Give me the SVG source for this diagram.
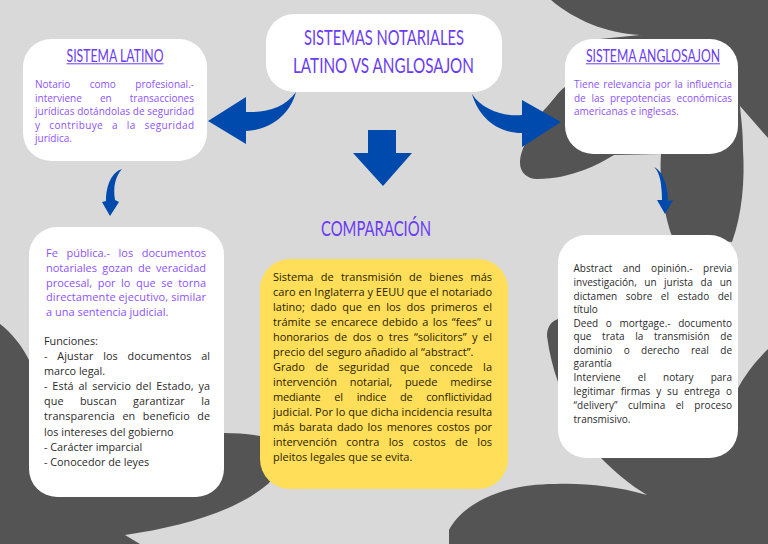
<svg xmlns="http://www.w3.org/2000/svg" width="768" height="544" viewBox="0 0 768 544">
<style>
text{font-family:"Open Sans","Noto Sans","DejaVu Sans",sans-serif;}
.b{font-size:10px;fill:#8c52ff;}
.m{font-size:10px;fill:#2a2a2a;}
.p{font-size:11px;fill:#8c52ff;}
.k{font-size:10.8px;fill:#2a2a2a;}
.y{font-size:11px;fill:#2a2200;}
.t{font-family:"Lato","Open Sans",sans-serif;fill:#6a3cf5;}
.h1{font-size:21px;}
.h2{font-size:18px;}
.box{fill:#fff;}
.dark{fill:#545454;}
.arrow{fill:#004aad;}
.ul{stroke:#6a3cf5;stroke-width:1;}
</style>
<rect width="768" height="544" fill="#d9d9d9"/>
<g id="background">
<path class="dark" d="M551 0C575 20 605 33 640 35L660 50L740 106L768 138V0Z"/>
<path class="dark" d="M640 35L600 39L565 87C558 92 552 102 544 110C536 120 530 130 527 140C522 150 520 156 520 163C520 173 528 179 537 179C555 179 570 175 584 170C595 166 605 160 614 155L661 154C659 180 664 215 672 236L732 242C742 215 745 180 743 150C743 130 741 118 740 106L700 60Z"/>
<path class="dark" d="M558 319C550 322 547 328 547 336C549 352 553 368 558 382L570 400L601 458C615 472 630 485 647 495C615 486 585 483 555 484C500 484 462 505 449 530L449 544H768V349C755 362 745 375 737 390L700 400Z"/>
<path class="dark" d="M0 324C12 333 22 346 29 360L100 420L224 433C236 433 248 434 260 436L280 470L268 484C235 512 180 527 125 535L140 544H0Z"/>
</g>
<g id="connectors">
<path class="arrow" d="M296 92C285 108 265 113 246 112V97L208 121L246 144V131C270 130 290 115 296 92Z"/>
<path class="arrow" d="M472 94C482 110 505 117 522 115V100L561 122L522 147V133C495 133 478 115 472 94Z"/>
<path class="arrow" d="M368 130H396V153H412L383 186L353 153H368Z"/>
<path class="arrow" d="M122 169C112 172 106 185 106 201L102 202L110 216L119 202L115 200C113 187 115 177 122 169Z"/>
<path class="arrow" d="M654 167C660 172 662 185 662 200L657 200L665 214L673 200L668 201C668 188 664 172 654 167Z"/>
</g>
<g id="node-title">
<rect class="box" x="266" y="14" width="236" height="78" rx="28"/>
<text class="t h1" x="304" y="44.5" textLength="160" lengthAdjust="spacingAndGlyphs">SISTEMAS NOTARIALES</text>
<text class="t h1" x="293" y="73" textLength="181" lengthAdjust="spacingAndGlyphs">LATINO VS ANGLOSAJON</text>
</g>
<g id="node-latino">
<rect class="box" x="23" y="39" width="184" height="122" rx="28"/>
<text class="t h2" x="66.5" y="62" textLength="97" lengthAdjust="spacingAndGlyphs">SISTEMA LATINO</text>
<line class="ul" x1="66.5" y1="63.8" x2="163.5" y2="63.8"/>
<text class="b" x="35" y="88" textLength="159" word-spacing="16.8">Notario como profesional.-</text>
<text class="b" x="35" y="102" textLength="159" word-spacing="15.5">interviene en transacciones</text>
<text class="b" x="35" y="115" textLength="159">jurídicas dotándolas de seguridad</text>
<text class="b" x="35" y="129" textLength="159" word-spacing="5.9">y contribuye a la seguridad</text>
<text class="b" x="35" y="142">jurídica.</text>
</g>
<g id="node-anglosajon">
<rect class="box" x="565" y="39" width="173" height="115" rx="28"/>
<text class="t" font-size="15" x="586" y="62" transform="translate(586 62) scale(1 1.2) translate(-586 -62)" textLength="134" lengthAdjust="spacingAndGlyphs">SISTEMA ANGLOSAJON</text>
<line class="ul" x1="586" y1="63.8" x2="720" y2="63.8"/>
<text class="b" x="574" y="88" textLength="158" word-spacing="1.3">Tiene relevancia por la influencia</text>
<text class="b" x="574" y="102" textLength="158" word-spacing="3.07">de las prepotencias económicas</text>
<text class="b" x="574" y="115">americanas e inglesas.</text>
</g>
<g id="node-comparacion-title">
<text class="t h1" x="321" y="235.5" textLength="110" lengthAdjust="spacingAndGlyphs">COMPARACIÓN</text>
</g>
<g id="node-latino-detail">
<rect class="box" x="29" y="227" width="195" height="270" rx="28"/>
<text class="p" x="46" y="257" textLength="160" word-spacing="5.7">Fe pública.- los documentos</text>
<text class="p" x="46" y="272" textLength="160" word-spacing="2.3">notariales gozan de veracidad</text>
<text class="p" x="46" y="287" textLength="160" word-spacing="2.7">procesal, por lo que se torna</text>
<text class="p" x="46" y="301" textLength="160">directamente ejecutivo, similar</text>
<text class="p" x="46" y="316">a una sentencia judicial.</text>
<text class="k" x="44" y="345">Funciones:</text>
<text class="k" x="44" y="360" textLength="166" word-spacing="6.7">- Ajustar los documentos al</text>
<text class="k" x="44" y="375">marco legal.</text>
<text class="k" x="44" y="390" textLength="166" word-spacing="1.9">- Está al servicio del Estado, ya</text>
<text class="k" x="44" y="405" textLength="166" word-spacing="13.4">que buscan garantizar la</text>
<text class="k" x="44" y="420" textLength="166" word-spacing="4.6">transparencia en beneficio de</text>
<text class="k" x="44" y="436">los intereses del gobierno</text>
<text class="k" x="44" y="451">- Carácter imparcial</text>
<text class="k" x="44" y="466">- Conocedor de leyes</text>
</g>
<g id="node-comparacion">
<rect x="260" y="259" width="248" height="230" rx="30" fill="#ffde59"/>
<text class="y" x="273" y="281" textLength="219" word-spacing="4.4">Sistema de transmisión de bienes más</text>
<text class="y" x="273" y="296" textLength="219">caro en Inglaterra y EEUU que el notariado</text>
<text class="y" x="273" y="311" textLength="219" word-spacing="2.75">latino; dado que en los dos primeros el</text>
<text class="y" x="273" y="326" textLength="219" word-spacing="1.46">trámite se encarece debido a los “fees” u</text>
<text class="y" x="273" y="341" textLength="219" word-spacing="2.84">honorarios de dos o tres “solicitors” y el</text>
<text class="y" x="273" y="356">precio del seguro añadido al “abstract”.</text>
<text class="y" x="273" y="371" textLength="219" word-spacing="7.47">Grado de seguridad que concede la</text>
<text class="y" x="273" y="386" textLength="219" word-spacing="9.97">intervención notarial, puede medirse</text>
<text class="y" x="273" y="401" textLength="219" word-spacing="11.05">mediante el indice de conflictividad</text>
<text class="y" x="273" y="415.5" textLength="219">judicial. Por lo que dicha incidencia resulta</text>
<text class="y" x="273" y="430.5" textLength="219" word-spacing="1.57">más barata dado los menores costos por</text>
<text class="y" x="273" y="445.5" textLength="219" word-spacing="6.5">intervención contra los costos de los</text>
<text class="y" x="273" y="460.5">pleitos legales que se evita.</text>
</g>
<g id="node-anglosajon-detail">
<rect class="box" x="558" y="235" width="180" height="223" rx="28"/>
<text class="m" x="573.5" y="272" textLength="158.5" word-spacing="7.8">Abstract and opinión.- previa</text>
<text class="m" x="573.5" y="285.5" textLength="158.5" word-spacing="4.8">investigación, un jurista da un</text>
<text class="m" x="573.5" y="300" textLength="158.5" word-spacing="5.85">dictamen sobre el estado del</text>
<text class="m" x="573.5" y="313">título</text>
<text class="m" x="573.5" y="327" textLength="158.5" word-spacing="4.97">Deed o mortgage.- documento</text>
<text class="m" x="573.5" y="340" textLength="158.5" word-spacing="8.07">que trata la transmisión de</text>
<text class="m" x="573.5" y="354" textLength="158.5" word-spacing="8.75">dominio o derecho real de</text>
<text class="m" x="573.5" y="367">garantía</text>
<text class="m" x="573.5" y="381" textLength="158.5" word-spacing="14.47">Interviene el notary para</text>
<text class="m" x="573.5" y="395" textLength="158.5" word-spacing="3.26">legitimar firmas y su entrega o</text>
<text class="m" x="573.5" y="409" textLength="158.5" word-spacing="7.73">“delivery” culmina el proceso</text>
<text class="m" x="573.5" y="423">transmisivo.</text>
</g>
</svg>
